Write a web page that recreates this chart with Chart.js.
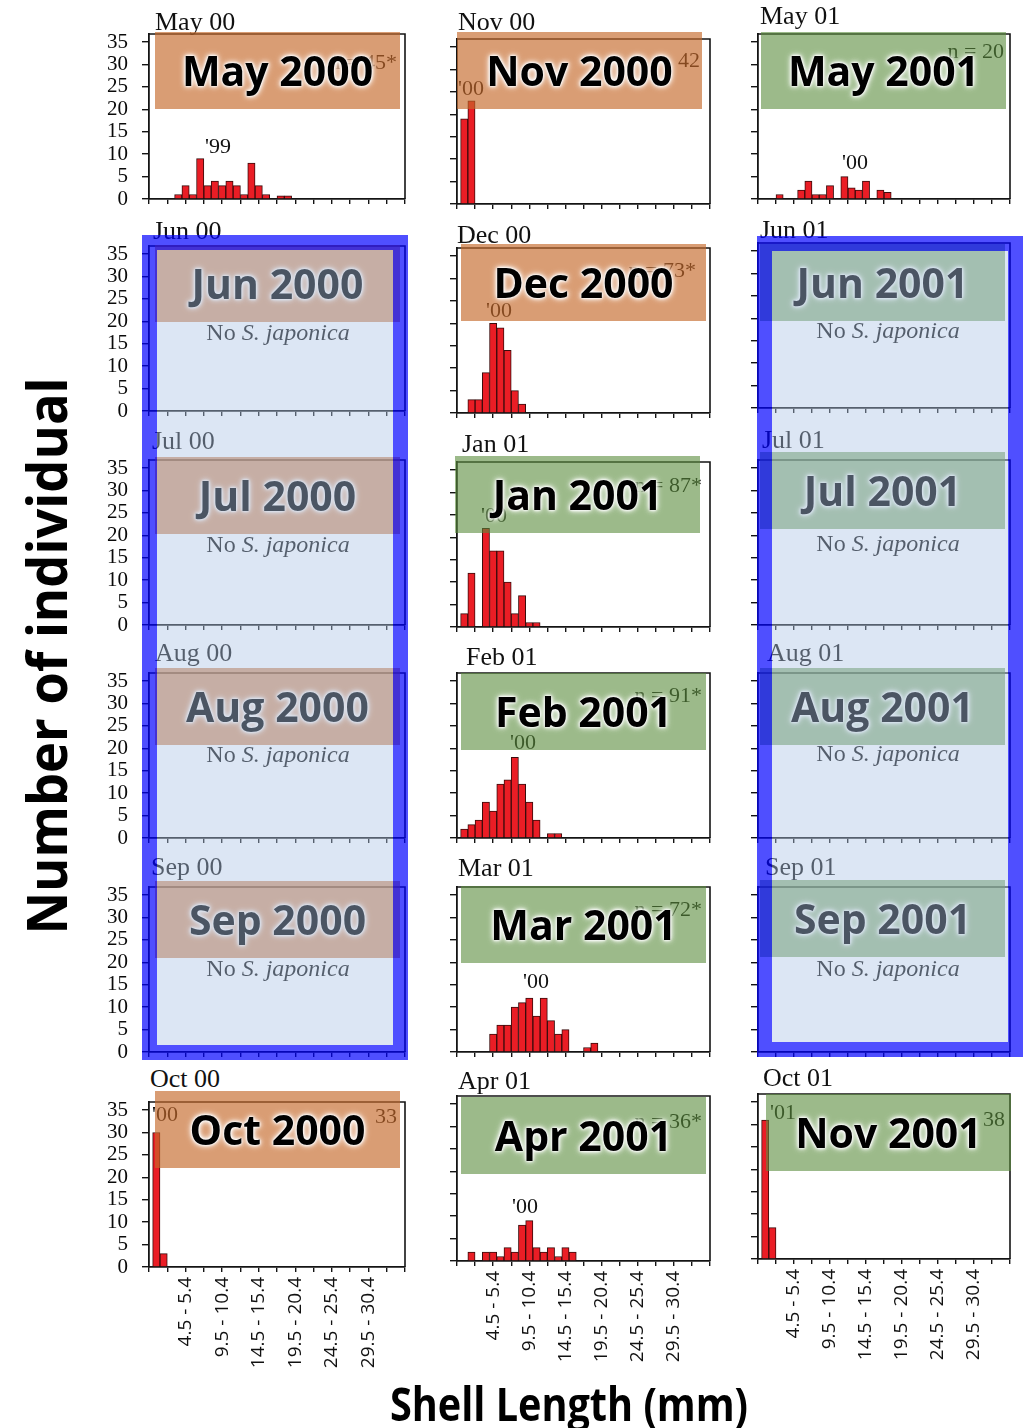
<!DOCTYPE html>
<html><head><meta charset="utf-8"><title>Shell length frequency</title>
<script src="https://cdn.jsdelivr.net/npm/chart.js@4.4.1/dist/chart.umd.min.js"></script>
<style>
html,body{margin:0;padding:0;background:#fff;}
#page{position:relative;width:1033px;height:1428px;overflow:hidden;background:#fff;}
canvas{position:absolute;}
.t{position:absolute;white-space:nowrap;line-height:1;}
.serif{font-family:"Liberation Serif","Times New Roman",serif;color:#111;}
.box{position:absolute;width:245px;height:77px;display:flex;align-items:center;justify-content:center;}
.orange{background:rgba(196,104,42,0.65);}
.green{background:rgba(90,140,60,0.6);}
.big{font-family:"Open Sans",sans-serif;font-weight:700;font-size:41px;line-height:1;color:#000;white-space:nowrap;text-shadow:0 0 2px #fff,0 0 3px #fff,0 0 5px #fff,0 0 7px #fff;}
.blue{position:absolute;box-sizing:border-box;border:15px solid rgba(0,0,255,0.69);background:rgba(174,198,230,0.43);background-clip:padding-box;}
.axt{position:absolute;font-family:"Open Sans",sans-serif;font-weight:700;color:#000;white-space:nowrap;line-height:1;}
</style></head>
<body><div id="page"></div>
<script>
// ---------------- DATA ----------------
const sizeClassMid = [1,2,3,4,5,6,7,8,9,10,11,12,13,14,15,16,17,18,19,20,21,22,23,24,25,26,27,28,29,30,31,32,33,34];
const tickValues = [5,10,15,20,25,30];
const tickLabels = ["4.5 - 5.4","9.5 - 10.4","14.5 - 15.4","19.5 - 20.4","24.5 - 25.4","29.5 - 30.4"];
const xTickPos = [0,2.5,5,7.5,10,12.5,15,17.5,20,22.5,25,27.5,30,32.5,35];
const yTickValues = [0,5,10,15,20,25,30,35];

const may2000 = [0,0,0,1,3,1,9,3,4,3,4,3,1,8,3,1,0,0.7,0.7,0,0,0,0,0,0,0,0,0,0,0,0,0,0,0];
const nov2000 = [19,23,0,0,0,0,0,0,0,0,0,0,0,0,0,0,0,0,0,0,0,0,0,0,0,0,0,0,0,0,0,0,0,0];
const may2001 = [0,0,1,0,0,2,4,1,1,3,0,5,2.5,2,4,0,2,1.5,0,0,0,0,0,0,0,0,0,0,0,0,0,0,0,0];
const dec2000 = [0,3,3,9,20,19,14,5,2,0,0,0,0,0,0,0,0,0,0,0,0,0,0,0,0,0,0,0,0,0,0,0,0,0];
const jan2001 = [3,12,0,22,17,17,10,3,7,1,1,0,0,0,0,0,0,0,0,0,0,0,0,0,0,0,0,0,0,0,0,0,0,0];
const feb2001 = [2,3,4,8,6,12,13,18,12,8,4,0,1,1,0,0,0,0,0,0,0,0,0,0,0,0,0,0,0,0,0,0,0,0];
const mar2001 = [0,0,0,0,4,6,6,10,11,12,8,12,7,4,5,0,0,1,2,0,0,0,0,0,0,0,0,0,0,0,0,0,0,0];
const oct2000 = [30,3,0,0,0,0,0,0,0,0,0,0,0,0,0,0,0,0,0,0,0,0,0,0,0,0,0,0,0,0,0,0,0,0];
const apr2001 = [0,2,0,2,2,1,3,2,8,9,3,2,3,1,3,2,0,0,0,0,0,0,0,0,0,0,0,0,0,0,0,0,0,0];
const nov2001 = [31,7,0,0,0,0,0,0,0,0,0,0,0,0,0,0,0,0,0,0,0,0,0,0,0,0,0,0,0,0,0,0,0,0];

const panelTitles = ["May 00","Nov 00","May 01","Jun 00","Dec 00","Jun 01","Jul 00","Jan 01","Jul 01","Aug 00","Feb 01","Aug 01","Sep 00","Mar 01","Sep 01","Oct 00","Apr 01","Oct 01"];
const boxLabels = ["May 2000","Nov 2000","May 2001","Jun 2000","Dec 2000","Jun 2001","Jul 2000","Jan 2001","Jul 2001","Aug 2000","Feb 2001","Aug 2001","Sep 2000","Mar 2001","Sep 2001","Oct 2000","Apr 2001","Nov 2001"];
const panelSeries = [may2000,nov2000,may2001,null,dec2000,null,null,jan2001,null,null,feb2001,null,null,mar2001,null,oct2000,apr2001,nov2001];
const sampleSizes = ["n = 45*","42","n = 20","n = 73*","n = 87*","n = 91*","n = 72*","33","n = 36*","38"];
const cohortLabels = ["'99","'00","'00","'00","'00","'00","'00","'00","'00","'01"];
const emptyNote = "No ";
const emptyNoteItalic = "S. japonica";
const yTitle = "Number of individual";
const xTitle = "Shell Length (mm)";

// ---------------- LAYOUT (styles only) ----------------
const page = document.getElementById('page');
const COLS_X = [149,457,758];
const COLS_W = [256,253,252];
const BASE = [[199,204,199],[411,413,408],[625,627,625],[838,838,838],[1052,1052,1052],[1267,1261,1259]];
const PLOT_H = 165;
const Y_MAX = 36.8;
const titlePos = [[155,31],[458,31],[760,25],[153,240],[457,244],[760,239],[152,450],[462,453],[762,449],[155,662],[466,666],[767,662],[151,876],[458,877],[765,876],[150,1088],[458,1090],[763,1087]];
const boxPos = [[155,32],[457,32],[761,32],[155,245],[461,244],[760,244],[155,457],[455,456],[760,452],[155,668],[461,673],[760,668],[155,881],[461,886],[760,880],[155,1091],[461,1097],[766,1094]];
const boxTone = ["orange","orange","green","orange","orange","green","orange","green","green","orange","green","green","orange","green","green","orange","green","green"];
const nPos = [[397,62],[700,60],[1004,51],[696,270],[702,485],[702,695],[702,909],[397,1116],[702,1121],[1005,1119]];
const cohortPos = [[218,146],[471,88],[855,162],[499,310],[494,515],[523,742],[536,981],[165,1114],[525,1206],[783,1112]];
const emptyPos = [[278,332],[278,544],[278,754],[278,968],[888,330],[888,543],[888,753],[888,968]];

const framePlugin = {id:'frame',afterDraw(chart){
  const a=chart.chartArea,ctx=chart.ctx;
  ctx.save();ctx.strokeStyle='#141414';ctx.lineWidth=1.6;
  ctx.beginPath();ctx.moveTo(a.left,a.top);ctx.lineTo(a.right,a.top);ctx.lineTo(a.right,a.bottom);ctx.stroke();
  ctx.restore();
}};

function makePanel(idx){
  const col = idx % 3, row = Math.floor(idx/3);
  const yW = col===0 ? 62 : 12, padT = 8, padR = 6;
  const bottom = row===5;
  const xH = bottom ? 130 : 12;
  const W = yW + COLS_W[col] + padR, H = padT + PLOT_H + xH;
  const cv = document.createElement('canvas');
  cv.width=W; cv.height=H; cv.style.width=W+'px'; cv.style.height=H+'px';
  cv.style.left=(COLS_X[col]-yW)+'px'; cv.style.top=(BASE[row][col]-PLOT_H-padT)+'px';
  page.appendChild(cv);
  const s = panelSeries[idx];
  const pts = s ? sizeClassMid.map((m,i)=>({x:m,y:s[i]})) : [];
  new Chart(cv,{
    type:'bar',
    data:{datasets:[{data:pts,backgroundColor:'#ea1d25',borderColor:'#3a0c0c',borderWidth:1,barPercentage:1,categoryPercentage:1}]},
    options:{
      responsive:false,maintainAspectRatio:false,devicePixelRatio:1,animation:false,events:[],
      layout:{padding:{top:padT,right:padR,left:0,bottom:0}},
      plugins:{legend:{display:false},tooltip:{enabled:false}},
      scales:{
        x:{type:'linear',min:0,max:35,offset:false,
          afterBuildTicks:sc=>{sc.ticks=xTickPos.map(v=>({value:v}));},
          afterFit:sc=>{sc.height=xH;sc.paddingLeft=0;sc.paddingRight=0;},
          grid:{display:true,offset:false,drawOnChartArea:false,drawTicks:true,tickLength:5,color:'#141414',lineWidth:1.4},
          border:{display:true,color:'#141414',width:1.8},
          ticks:{display:bottom,autoSkip:false,maxRotation:90,minRotation:90,padding:5,color:'#111',
            font:{family:"'Open Sans', sans-serif",size:19},
            callback:v=>{const i=tickValues.indexOf(v);return i<0?'':tickLabels[i];}}},
        y:{type:'linear',min:0,max:Y_MAX,
          afterBuildTicks:sc=>{sc.ticks=yTickValues.map(v=>({value:v}));},
          afterFit:sc=>{sc.width=yW;sc.paddingTop=0;sc.paddingBottom=0;},
          grid:{display:true,drawOnChartArea:false,drawTicks:true,tickLength:7,color:'#141414',lineWidth:1.4},
          border:{display:true,color:'#141414',width:1.8},
          ticks:{display:col===0,autoSkip:false,padding:14,color:'#0a0a0a',
            font:{family:"'Liberation Serif', serif",size:21},callback:v=>String(v)}}
      }
    },
    plugins:[framePlugin]
  });
}

function addText(html, cls, x, y, size, transform){
  const d=document.createElement('div');
  d.className='t '+cls; d.innerHTML=html;
  d.style.left=x+'px'; d.style.top=y+'px'; d.style.fontSize=size+'px';
  if(transform) d.style.transform=transform;
  page.appendChild(d); return d;
}

// charts
for(let i=0;i<18;i++) makePanel(i);

// sample size and cohort annotations (under the coloured boxes)
sampleSizes.forEach((t,i)=>addText(t,'serif',nPos[i][0],nPos[i][1],22,'translate(-100%,-50%)'));
cohortLabels.forEach((t,i)=>addText(t,'serif',cohortPos[i][0],cohortPos[i][1],22,'translate(-50%,-50%)'));

// panel titles
panelTitles.forEach((t,i)=>addText(t,'serif',titlePos[i][0],titlePos[i][1]-0.8375*26,26));

// coloured boxes with big labels
boxLabels.forEach((t,i)=>{
  const b=document.createElement('div');
  b.className='box '+boxTone[i];
  b.style.left=boxPos[i][0]+'px'; b.style.top=boxPos[i][1]+'px';
  const s=document.createElement('div'); s.className='big'; s.textContent=t;
  b.appendChild(s); page.appendChild(b);
});

// empty-panel notes
emptyPos.forEach(p=>addText(emptyNote+'<i>'+emptyNoteItalic+'</i>','serif',p[0],p[1],24,'translate(-50%,-50%)'));

// blue highlight frames
[[142,235,266,825],[757,236,266,821]].forEach(r=>{
  const d=document.createElement('div'); d.className='blue';
  d.style.left=r[0]+'px'; d.style.top=r[1]+'px'; d.style.width=r[2]+'px'; d.style.height=r[3]+'px';
  page.appendChild(d);
});

// axis titles (fitted to reference length)
function axisTitle(text,size,cx,cy,len,rot){
  const d=document.createElement('div'); d.className='axt'; d.textContent=text;
  d.style.fontSize=size+'px'; d.style.left=cx+'px'; d.style.top=cy+'px';
  page.appendChild(d);
  const w=d.offsetWidth; const k=len/w;
  d.style.transform='translate(-50%,-50%)'+(rot?' rotate(-90deg)':'')+' scaleX('+k.toFixed(3)+')';
}
axisTitle(yTitle,56,45,656,557,true);
axisTitle(xTitle,46,569,1403,358,false);
</script></body></html>
